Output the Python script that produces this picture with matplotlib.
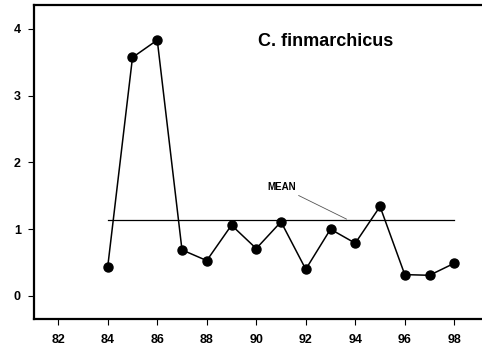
import matplotlib
matplotlib.use("Agg")
import matplotlib.pyplot as plt

# Yearly abundance of C. finmarchicus (years as two-digit values)
years = [84, 85, 86, 87, 88, 89, 90, 91, 92, 93, 94, 95, 96, 97, 98]
abundance = [0.44, 3.57, 3.83, 0.69, 0.53, 1.06, 0.71, 1.11, 0.40, 1.00,
             0.79, 1.34, 0.32, 0.31, 0.49]
mean_value = 1.13
mean_span = [84, 98]
xticks = [82, 84, 86, 88, 90, 92, 94, 96, 98]
yticks = [0, 1, 2, 3, 4]

plt.rcParams['font.family'] = ['Liberation Sans', 'DejaVu Sans']

fig = plt.figure(figsize=(4.82, 3.49), dpi=100)
ax = fig.add_axes([0.0705, 0.086, 0.9295, 0.8997])

ax.plot(mean_span, [mean_value, mean_value], color='black', lw=0.9, zorder=2)
ax.plot(years, abundance, color='black', lw=1.1, marker='o', ms=6.5,
        markerfacecolor='black', zorder=3)

ax.annotate('MEAN', xy=(93.65, mean_value + 0.02), xytext=(91.6, 1.63),
            fontsize=7, fontweight='bold', ha='right', va='center',
            arrowprops=dict(arrowstyle='-', color='#555555', lw=0.6,
                            shrinkA=1, shrinkB=0))

ax.text(0.652, 0.885, 'C. finmarchicus', transform=ax.transAxes,
        fontsize=13, fontweight='bold', ha='center', va='center')

ax.set_xlim(81.02, 99.12)
ax.set_ylim(-0.344, 4.355)
ax.set_xticks(xticks)
ax.set_yticks(yticks)
ax.set_xticklabels([str(t) for t in xticks], fontsize=9, fontweight='bold')
ax.set_yticklabels([str(t) for t in yticks], fontsize=9, fontweight='bold')
ax.tick_params(direction='out', length=4.5, width=0.8)
ax.tick_params(axis='x', pad=6)
ax.tick_params(axis='y', pad=5)

for side in ['left', 'bottom', 'top']:
    ax.spines[side].set_linewidth(1.6)
ax.spines['right'].set_visible(False)

fig.savefig('out.png', dpi=100)
